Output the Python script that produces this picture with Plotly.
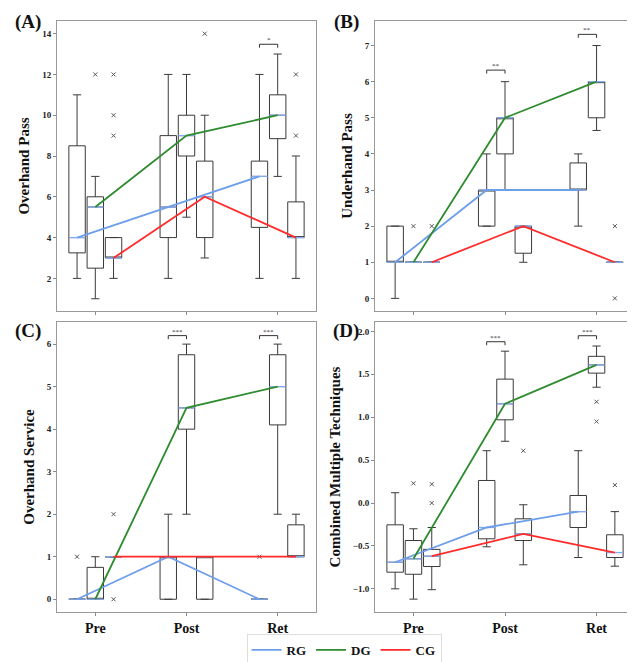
import plotly.graph_objects as go

# ---------------- data ----------------
TIMES = ["Pre", "Post", "Ret"]
GROUPS = ["RG", "DG", "CG"]

# five-number summaries per time point: [lower whisker, q1, median, q3, upper whisker]
OP_RG = [[2, 3.25, 4, 8.5, 11], [2, 4, 5.5, 9, 12], [2, 4.5, 7, 7.75, 12]]
OP_DG = [[1, 2.5, 5.5, 6, 7], [5, 8, 9, 10, 12], [7, 8.85, 10, 11, 13]]
OP_CG = [[2, 3, 3, 4, 4], [3, 4, 6, 7.75, 10], [2, 4, 4, 5.75, 8]]
OP_RG_OUT = [[], [], []]
OP_DG_OUT = [[12], [], []]
OP_CG_OUT = [[9, 10, 12], [14], [9, 12]]

UP_RG = [[0, 1, 1, 2, 2], [2, 2, 3, 3, 4], [2, 3, 3, 3.75, 4]]
UP_DG = [[1, 1, 1, 1, 1], [3, 4, 5, 5, 6], [4.65, 5, 6, 6, 7]]
UP_CG = [[1, 1, 1, 1, 1], [1, 1.25, 2, 2, 2], [1, 1, 1, 1, 1]]
UP_RG_OUT = [[], [], []]
UP_DG_OUT = [[2], [], []]
UP_CG_OUT = [[2], [], [0, 2]]

OS_RG = [[0, 0, 0, 0, 0], [0, 0, 1, 1, 2], [0, 0, 0, 0, 0]]
OS_DG = [[0, 0, 0, 0.75, 1], [2, 4, 4.5, 5.75, 6], [2, 4.1, 5, 5.75, 6]]
OS_CG = [[1, 1, 1, 1, 1], [0, 0, 1, 1, 1], [1, 1, 1, 1.75, 2]]
OS_RG_OUT = [[1], [], [1]]
OS_DG_OUT = [[], [], []]
OS_CG_OUT = [[0, 2], [], []]

CM_RG = [[-1.0, -0.806, -0.69, -0.254, 0.12], [-0.51, -0.417, -0.285, 0.263, 0.61], [-0.635, -0.285, -0.10, 0.088, 0.61]]
CM_DG = [[-1.12, -0.83, -0.65, -0.437, -0.30], [0.72, 0.97, 1.157, 1.444, 1.77], [1.35, 1.514, 1.61, 1.71, 1.83]]
CM_CG = [[-1.01, -0.74, -0.62, -0.54, -0.285], [-0.72, -0.437, -0.36, -0.184, -0.02], [-0.736, -0.635, -0.577, -0.37, -0.10]]
CM_RG_OUT = [[], [], []]
CM_DG_OUT = [[0.23], [], [1.18, 0.95]]
CM_CG_OUT = [[0.22, 0.0], [0.61], [0.21]]

# significance brackets: (time index, bracket height, label)
OP_SIG = [(2, 13.48, "*")]
UP_SIG = [(1, 6.32, "**"), (2, 7.31, "**")]
OS_SIG = [(1, 6.2, "***"), (2, 6.2, "***")]
CM_SIG = [(1, 1.88, "***"), (2, 1.95, "***")]

Y_TITLES = ["Overhand Pass", "Underhand Pass", "Overhand Service", "Combined Multiple Techniques"]
PANEL_LABELS = ["(A)", "(B)", "(C)", "(D)"]
Y_TICKS = [[2, 4, 6, 8, 10, 12, 14], [0, 1, 2, 3, 4, 5, 6, 7], [0, 1, 2, 3, 4, 5, 6],
           [-1.0, -0.5, 0.0, 0.5, 1.0, 1.5, 2.0]]
Y_RANGES = [[0.4, 14.62], [-0.35, 7.68], [-0.3, 6.52], [-1.27, 2.11]]

# ---------------- styling ----------------
W, H = 635, 662
FONT = "Liberation Serif"
LINE_COLORS = {"RG": "#6d9eeb", "DG": "#2e8b2e", "CG": "#ff2a2a"}
MEDIAN_COLOR = "#86acf0"
OFFSETS = {"RG": -0.2, "DG": 0.0, "CG": 0.2}
BOX_W = 0.18


def px_x(x):
    return x / W


def px_y(y):
    return 1 - y / H


panels = [
    dict(stats={"RG": OP_RG, "DG": OP_DG, "CG": OP_CG},
         out={"RG": OP_RG_OUT, "DG": OP_DG_OUT, "CG": OP_CG_OUT}, sig=OP_SIG),
    dict(stats={"RG": UP_RG, "DG": UP_DG, "CG": UP_CG},
         out={"RG": UP_RG_OUT, "DG": UP_DG_OUT, "CG": UP_CG_OUT}, sig=UP_SIG),
    dict(stats={"RG": OS_RG, "DG": OS_DG, "CG": OS_CG},
         out={"RG": OS_RG_OUT, "DG": OS_DG_OUT, "CG": OS_CG_OUT}, sig=OS_SIG),
    dict(stats={"RG": CM_RG, "DG": CM_DG, "CG": CM_CG},
         out={"RG": CM_RG_OUT, "DG": CM_DG_OUT, "CG": CM_CG_OUT}, sig=CM_SIG),
]

# pixel boxes of plot areas: (x0, x1, y0_top, y1_bottom)
PIX = [(49, 308, 13, 303), (367, 627, 13, 303), (49, 308, 314, 604), (367, 627, 314, 604)]

fig = go.Figure()
layout = {}

for i, p in enumerate(panels):
    n = i + 1
    xa, ya = ("x" if n == 1 else f"x{n}"), ("y" if n == 1 else f"y{n}")
    x0, x1, yt, yb = PIX[i]
    bottom = i >= 2

    # boxes
    for g in GROUPS:
        for t, s in enumerate(p["stats"][g]):
            pos = t + OFFSETS[g]
            fig.add_trace(go.Box(
                x=[pos], lowerfence=[s[0]], q1=[s[1]], median=[s[2]], q3=[s[3]], upperfence=[s[4]],
                width=BOX_W, whiskerwidth=0.5, fillcolor="white",
                line=dict(color="#3a3a3a", width=1), boxpoints=False,
                xaxis=xa, yaxis=ya, showlegend=False, hoverinfo="skip"))
    # medians
    for g in GROUPS:
        for t, s in enumerate(p["stats"][g]):
            pos = t + OFFSETS[g]
            fig.add_trace(go.Scatter(
                x=[pos - BOX_W / 2, pos + BOX_W / 2], y=[s[2], s[2]], mode="lines",
                line=dict(color=MEDIAN_COLOR, width=1.3), xaxis=xa, yaxis=ya,
                showlegend=False, hoverinfo="skip"))
    # outliers
    for g in GROUPS:
        ox, oy = [], []
        for t, vals in enumerate(p["out"][g]):
            for v in vals:
                ox.append(t + OFFSETS[g])
                oy.append(v)
        if ox:
            fig.add_trace(go.Scatter(
                x=ox, y=oy, mode="markers",
                marker=dict(symbol="x-thin", size=4, line=dict(width=1, color="#555555")),
                xaxis=xa, yaxis=ya, showlegend=False, hoverinfo="skip"))
    # median trend lines
    for g in GROUPS:
        fig.add_trace(go.Scatter(
            x=[t + OFFSETS[g] for t in range(3)], y=[s[2] for s in p["stats"][g]],
            mode="lines", line=dict(color=LINE_COLORS[g], width=1.8),
            name=g, legendgroup=g, showlegend=(i == 0),
            xaxis=xa, yaxis=ya, hoverinfo="skip"))
    # significance brackets
    span = Y_RANGES[i][1] - Y_RANGES[i][0]
    for t, h, lab in p["sig"]:
        xa_ = t + OFFSETS["RG"]
        xb_ = t + OFFSETS["DG"]
        d = span * 0.012
        fig.add_trace(go.Scatter(
            x=[xa_, xa_, xb_, xb_], y=[h - d, h, h, h - d], mode="lines",
            line=dict(color="#333333", width=1), xaxis=xa, yaxis=ya,
            showlegend=False, hoverinfo="skip"))
        fig.add_annotation(x=(xa_ + xb_) / 2, y=h, xref=xa, yref=ya, text=lab,
                           showarrow=False, xanchor="center", yanchor="bottom", yshift=-2,
                           font=dict(family=FONT, size=7, color="#333333"))

    dom_x = [px_x(x0), px_x(x1)]
    dom_y = [px_y(yb), px_y(yt)]
    layout["xaxis" if n == 1 else f"xaxis{n}"] = dict(
        domain=dom_x, anchor=ya, range=[-0.42, 2.42], automargin=False,
        tickmode="array", tickvals=[0, 1, 2], ticktext=TIMES,
        showticklabels=bottom, ticks="outside", ticklen=3, tickcolor="#888888",
        showgrid=False, zeroline=False, showline=True, mirror=True,
        linecolor="#999999", linewidth=1,
        tickfont=dict(family=FONT, size=14, color="#111111", weight="bold"))
    layout["yaxis" if n == 1 else f"yaxis{n}"] = dict(
        domain=dom_y, anchor=xa, range=Y_RANGES[i], automargin=False,
        tickmode="array", tickvals=Y_TICKS[i],
        tickformat=".1f" if i == 3 else "d",
        ticks="outside", ticklen=3, tickcolor="#888888",
        showgrid=False, zeroline=False, showline=True, mirror=True,
        linecolor="#999999", linewidth=1,
        tickfont=dict(family=FONT, size=9, color="#222222", weight="bold"),
        title=dict(text=Y_TITLES[i], standoff=8,
                   font=dict(family=FONT, size=15, color="#111111", weight="bold")))

    lx = 20 if i % 2 == 0 else 338
    ly = 14 if i < 2 else 323
    fig.add_annotation(x=px_x(lx), y=px_y(ly), xref="paper", yref="paper",
                       xanchor="center", yanchor="middle",
                       text=PANEL_LABELS[i], showarrow=False,
                       font=dict(family=FONT, size=19, color="#111111", weight="bold"))

fig.update_layout(
    width=W, height=H, margin=dict(l=0, r=0, t=0, b=0),
    paper_bgcolor="white", plot_bgcolor="white",
    showlegend=True,
    legend=dict(orientation="h", x=px_x(336), xanchor="center", y=px_y(642), yanchor="middle",
                bordercolor="#dddddd", borderwidth=1, bgcolor="white",
                font=dict(family=FONT, size=13, color="#111111", weight="bold"),
                itemwidth=30, tracegroupgap=0),
    **layout)

fig.write_html("out.html")
